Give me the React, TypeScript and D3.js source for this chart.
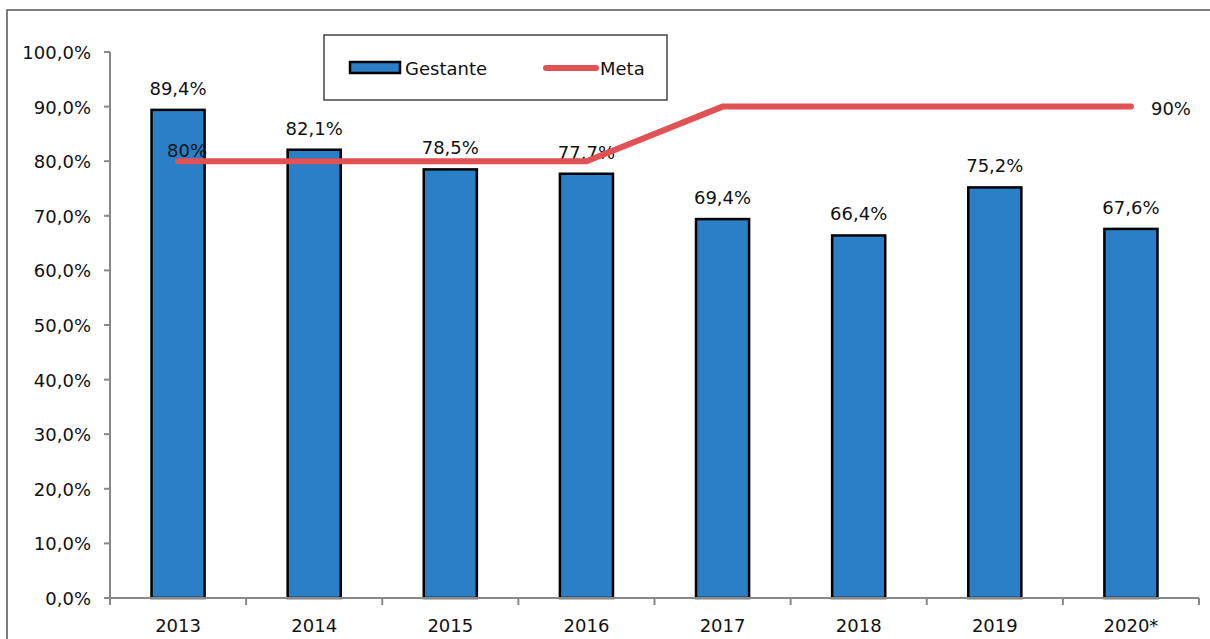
import React from "react";
import * as d3 from "d3";

const categories = ["2013", "2014", "2015", "2016", "2017", "2018", "2019", "2020*"];
const gestante = [89.4, 82.1, 78.5, 77.7, 69.4, 66.4, 75.2, 67.6];
const meta = [80, 80, 80, 80, 90, 90, 90, 90];
const yTicks = [0, 10, 20, 30, 40, 50, 60, 70, 80, 90, 100];

const W = 1210;
const H = 639;
const FONT = "'DejaVu Sans', Verdana, sans-serif";
const FS = 18;

const fmt = (v: number) => v.toFixed(1).replace(".", ",") + "%";

export default function App() {
  const left = 110, right = 1199, top = 52, bottom = 598;
  const x = d3.scaleBand<string>().domain(categories).range([left, right]).padding(0);
  const y = d3.scaleLinear().domain([0, 100]).range([bottom, top]);
  const bw = x.bandwidth() * 0.39;
  const cx = (c: string) => (x(c) as number) + x.bandwidth() / 2;
  const line = d3
    .line<number>()
    .x((_, i) => cx(categories[i]))
    .y((d) => y(d));

  return (
    <svg
      width={W}
      height={H}
      style={{ position: "absolute", left: 0, top: 0, background: "#fff" }}
      fontFamily={FONT}
    >
      <rect x={0} y={0} width={W} height={H} fill="#fff" />
      <rect x={7} y={10} width={1220} height={660} fill="none" stroke="#555" strokeWidth={1.5} />

      {/* y axis */}
      <line x1={left} x2={left} y1={top} y2={bottom} stroke="#888" strokeWidth={2} />
      {yTicks.map((t) => (
        <g key={t}>
          <line x1={left - 6} x2={left} y1={y(t)} y2={y(t)} stroke="#888" strokeWidth={2} />
          <text x={91} y={y(t) + 7} textAnchor="end" fontSize={FS} fill="#111">
            {fmt(t)}
          </text>
        </g>
      ))}

      {/* bars */}
      {categories.map((c, i) => (
        <g key={c}>
          <rect
            x={cx(c) - bw / 2}
            y={y(gestante[i])}
            width={bw}
            height={bottom - y(gestante[i])}
            fill="#2a7fc6"
            stroke="#000"
            strokeWidth={2.5}
          />
          <text x={cx(c)} y={y(gestante[i]) - 15} textAnchor="middle" fontSize={FS} fill="#111">
            {fmt(gestante[i])}
          </text>
        </g>
      ))}

      {/* x axis */}
      <line x1={left} x2={right} y1={bottom} y2={bottom} stroke="#888" strokeWidth={2} />
      {d3.range(categories.length + 1).map((i) => {
        const xx = left + i * x.bandwidth();
        return <line key={i} x1={xx} x2={xx} y1={bottom} y2={bottom + 7} stroke="#888" strokeWidth={2} />;
      })}
      {categories.map((c) => (
        <text key={c} x={cx(c)} y={632} textAnchor="middle" fontSize={FS} fill="#111">
          {c}
        </text>
      ))}

      {/* meta line */}
      <path d={line(meta) as string} fill="none" stroke="#e05254" strokeWidth={6} strokeLinecap="round" strokeLinejoin="miter" />
      <text x={cx(categories[0]) + 9} y={y(meta[0]) - 4} textAnchor="middle" fontSize={FS} fill="#111">
        80%
      </text>
      <text x={cx(categories[7]) + 20} y={y(meta[7]) + 8} textAnchor="start" fontSize={FS} fill="#111">
        90%
      </text>

      {/* legend */}
      <rect x={324} y={35} width={343} height={65} fill="#fff" stroke="#444" strokeWidth={1.5} />
      <rect x={350} y={62} width={50} height={11} fill="#2a7fc6" stroke="#000" strokeWidth={2.5} />
      <text x={405} y={75} fontSize={FS} fill="#111">Gestante</text>
      <line x1={546} x2={596} y1={68} y2={68} stroke="#e05254" strokeWidth={6} strokeLinecap="round" />
      <text x={600} y={75} fontSize={FS} fill="#111">Meta</text>
    </svg>
  );
}
